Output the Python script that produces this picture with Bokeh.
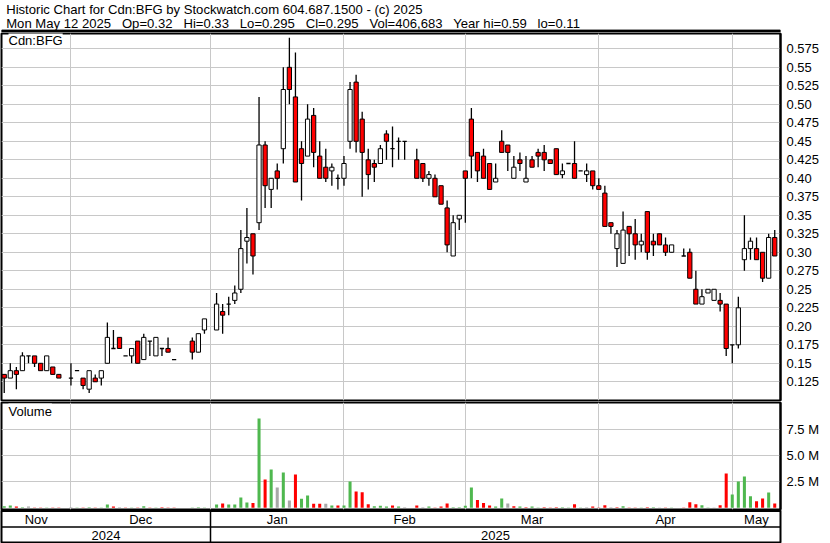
import numpy as np
from bokeh.plotting import figure
from bokeh.models import Range1d, FixedTicker, Label
from bokeh.layouts import column
from bokeh.embed import file_html
from bokeh.resources import INLINE
from bokeh.core.properties import value

# ---------------- data ----------------
symbol = "Cdn:BFG"
header_date = "Mon May 12 2025"

# trading-day slot index (Dec 2 2024 = 0)
day = [-11, -10, -9, -8, -7, -6, -5, -4, -3, -2,
       0, 1, 2, 3, 4, 5, 6, 7, 8, 9, 10, 11, 12, 13, 14, 15, 16, 17, 20, 21, 22,
       24, 25, 26, 27, 28, 29, 30, 31, 32, 33, 34, 35, 36, 37, 38, 39, 40, 41, 42, 43, 44,
       45, 46, 47, 48, 49, 50, 51, 52, 53, 54, 55, 57, 58, 59, 60, 61, 62, 63, 64,
       65, 66, 67, 68, 69, 70, 71, 72, 73, 74, 75, 76, 77, 78, 79, 80, 81, 82, 83, 84, 85, 86,
       87, 88, 89, 90, 91, 92, 93, 94, 95, 96, 97, 98, 99, 101, 102, 103, 104, 105, 106, 107, 108,
       109, 110, 111, 112, 113, 114, 115, 116]

open_ = [0.135, 0.130, 0.140, 0.140, 0.160, 0.160, 0.150, 0.140, 0.145, 0.135,
         0.130, 0.140, 0.130, 0.115, 0.130, 0.130, 0.150, 0.170, 0.185, 0.160, 0.160, 0.180, 0.155, 0.180, 0.160, 0.170, 0.170, 0.155, 0.180, 0.165, 0.195,
         0.195, 0.220, 0.230, 0.235, 0.250, 0.315, 0.325, 0.340, 0.445, 0.385, 0.410, 0.440, 0.550, 0.510, 0.440, 0.430, 0.485, 0.430, 0.415, 0.410, 0.400,
         0.400, 0.450, 0.530, 0.480, 0.425, 0.420, 0.420, 0.460, 0.440, 0.450, 0.450, 0.425, 0.420, 0.400, 0.400, 0.390, 0.360, 0.295, 0.345,
         0.410, 0.480, 0.435, 0.430, 0.420, 0.395, 0.450, 0.445, 0.400, 0.425, 0.395, 0.425, 0.435, 0.435, 0.425, 0.440, 0.405, 0.420, 0.420, 0.410, 0.405, 0.410,
         0.390, 0.380, 0.340, 0.305, 0.285, 0.335, 0.325, 0.310, 0.355, 0.315, 0.325, 0.310, 0.300, 0.295, 0.300, 0.250, 0.230, 0.245, 0.235, 0.235, 0.230,
         0.175, 0.175, 0.290, 0.305, 0.305, 0.300, 0.265, 0.320]

high = [0.135, 0.150, 0.145, 0.165, 0.160, 0.160, 0.150, 0.160, 0.145, 0.135,
        0.150, 0.140, 0.130, 0.140, 0.135, 0.140, 0.205, 0.195, 0.185, 0.160, 0.170, 0.180, 0.190, 0.180, 0.185, 0.170, 0.185, 0.155, 0.185, 0.190, 0.210,
        0.245, 0.230, 0.240, 0.255, 0.330, 0.360, 0.325, 0.510, 0.450, 0.400, 0.420, 0.550, 0.590, 0.570, 0.450, 0.500, 0.495, 0.450, 0.440, 0.420, 0.405,
        0.430, 0.530, 0.540, 0.490, 0.440, 0.425, 0.445, 0.465, 0.470, 0.455, 0.450, 0.440, 0.420, 0.410, 0.405, 0.390, 0.370, 0.350, 0.350,
        0.410, 0.495, 0.435, 0.440, 0.420, 0.420, 0.465, 0.445, 0.430, 0.435, 0.430, 0.430, 0.440, 0.445, 0.425, 0.440, 0.420, 0.420, 0.450, 0.410, 0.420, 0.410,
        0.400, 0.390, 0.340, 0.330, 0.355, 0.335, 0.345, 0.325, 0.355, 0.325, 0.325, 0.320, 0.310, 0.305, 0.305, 0.275, 0.250, 0.250, 0.250, 0.245, 0.230,
        0.175, 0.240, 0.350, 0.320, 0.320, 0.300, 0.325, 0.330]

low = [0.110, 0.130, 0.115, 0.140, 0.150, 0.145, 0.140, 0.140, 0.135, 0.130,
       0.120, 0.140, 0.115, 0.110, 0.125, 0.120, 0.150, 0.170, 0.170, 0.160, 0.150, 0.150, 0.155, 0.160, 0.160, 0.160, 0.165, 0.155, 0.155, 0.165, 0.190,
       0.195, 0.190, 0.215, 0.230, 0.245, 0.285, 0.270, 0.330, 0.360, 0.360, 0.385, 0.420, 0.500, 0.395, 0.370, 0.430, 0.415, 0.400, 0.395, 0.390, 0.385,
       0.390, 0.440, 0.435, 0.375, 0.385, 0.395, 0.420, 0.425, 0.415, 0.425, 0.425, 0.400, 0.395, 0.390, 0.375, 0.365, 0.300, 0.295, 0.330,
       0.340, 0.400, 0.395, 0.400, 0.385, 0.395, 0.435, 0.410, 0.400, 0.410, 0.395, 0.415, 0.415, 0.410, 0.420, 0.405, 0.400, 0.420, 0.400, 0.410, 0.395, 0.385,
       0.385, 0.335, 0.325, 0.280, 0.285, 0.295, 0.290, 0.300, 0.290, 0.295, 0.310, 0.295, 0.300, 0.295, 0.265, 0.230, 0.230, 0.245, 0.235, 0.220, 0.160,
       0.150, 0.170, 0.275, 0.290, 0.290, 0.260, 0.265, 0.295]

close = [0.130, 0.140, 0.135, 0.160, 0.160, 0.150, 0.140, 0.160, 0.135, 0.130,
         0.130, 0.140, 0.120, 0.140, 0.125, 0.140, 0.185, 0.170, 0.170, 0.160, 0.170, 0.150, 0.185, 0.180, 0.185, 0.170, 0.165, 0.155, 0.165, 0.190, 0.210,
         0.230, 0.215, 0.230, 0.245, 0.305, 0.320, 0.295, 0.445, 0.390, 0.400, 0.400, 0.520, 0.520, 0.395, 0.420, 0.480, 0.435, 0.400, 0.400, 0.415, 0.400,
         0.420, 0.520, 0.450, 0.435, 0.405, 0.415, 0.440, 0.450, 0.440, 0.450, 0.450, 0.400, 0.400, 0.405, 0.375, 0.365, 0.310, 0.340, 0.350,
         0.400, 0.430, 0.410, 0.400, 0.385, 0.400, 0.435, 0.435, 0.415, 0.420, 0.400, 0.415, 0.430, 0.425, 0.420, 0.405, 0.410, 0.420, 0.400, 0.410, 0.410, 0.390,
         0.385, 0.335, 0.335, 0.325, 0.330, 0.325, 0.310, 0.315, 0.300, 0.310, 0.310, 0.300, 0.310, 0.295, 0.265, 0.230, 0.240, 0.250, 0.250, 0.230, 0.170,
         0.175, 0.225, 0.305, 0.315, 0.290, 0.265, 0.320, 0.295]

volume = [160000, 220000, 130000, 60000, 130000, 20000, 20000, 20000, 20000, 20000,
          60000, 20000, 20000, 60000, 20000, 20000, 320000, 130000, 60000, 20000, 20000, 20000, 160000, 20000, 20000, 60000, 20000, 20000, 20000, 60000, 20000,
          320000, 420000, 320000, 320000, 990000, 510000, 450000, 8590000, 2720000, 3690000, 1960000, 3400000, 700000, 3200000, 870000, 1190000, 385000, 385000, 385000, 220000, 220000,
          220000, 2530000, 1570000, 1500000, 350000, 160000, 190000, 130000, 220000, 130000, 60000, 220000, 60000, 130000, 20000, 130000, 420000, 60000, 60000,
          190000, 1960000, 740000, 450000, 220000, 130000, 900000, 420000, 160000, 130000, 60000, 130000, 20000, 60000, 20000, 60000, 60000, 20000, 350000, 20000, 60000, 130000,
          20000, 250000, 60000, 60000, 160000, 20000, 20000, 20000, 60000, 60000, 20000, 20000, 20000, 20000, 545000, 350000, 250000, 20000, 20000, 250000, 3300000,
          1280000, 2530000, 3000000, 1120000, 640000, 900000, 1470000, 406683]

month_names = ["Nov", "Dec", "Jan", "Feb", "Mar", "Apr", "May"]
month_start = [0, 23, 45, 65, 87, 109]          # slot of Dec, Jan, Feb, Mar, Apr, May
year_names = ["2024", "2025"]
year_start = [23]                                # slot where 2025 begins

price_ticks = [0.125, 0.15, 0.175, 0.2, 0.225, 0.25, 0.275, 0.3, 0.325, 0.35,
               0.375, 0.4, 0.425, 0.45, 0.475, 0.5, 0.525, 0.55, 0.575]
price_tick_labels = ["0.125", "0.15", "0.175", "0.20", "0.225", "0.25", "0.275", "0.30", "0.325", "0.35",
                     "0.375", "0.40", "0.425", "0.45", "0.475", "0.50", "0.525", "0.55", "0.575"]
vol_ticks = [2500000, 5000000, 7500000]
vol_tick_labels = ["2.5 M", "5.0 M", "7.5 M"]

# ---------------- styling ----------------
FONT = value("Liberation Sans")
W = 830
XS, XE = -11.45, 116.95
GRID = "#c8c8c8"
RED = "#ff0000"
GREEN = "#4fb84f"
GREY = "#a8a8a8"
RB = 50

d = np.array(day, dtype=float)
o = np.array(open_); h = np.array(high); l = np.array(low); c = np.array(close)
v = np.array(volume, dtype=float)

xr = Range1d(XS, XE)

# ---------------- header ----------------
HH = 32
hdr = figure(width=W, height=HH, x_range=Range1d(0, W), y_range=Range1d(HH, 0),
             output_backend="svg", toolbar_location=None,
             min_border_left=0, min_border_right=0, min_border_top=0, min_border_bottom=0)
hdr.axis.visible = False
hdr.grid.visible = False
hdr.outline_line_color = None
sp = "\u00a0\u00a0 "
line1 = f"Historic Chart for {symbol} by Stockwatch.com 604.687.1500 - (c) 2025"
line2 = (f"{header_date}{sp}Op={o[-1]:g}{sp}Hi={h[-1]:g}{sp}Lo={l[-1]:g}{sp}Cl={c[-1]:g}"
         f"{sp}Vol={int(v[-1]):,}{sp}Year hi={h.max():g}{sp}lo={l.min():g}")
hdr.quad(left=[0], right=[W], top=[29.6], bottom=[HH], color="black")
hdr.text(x=[5, 5], y=[9.0, 23.2], text=[line1, line2], text_font=FONT,
         text_font_size="13.1px", text_color="black", text_baseline="alphabetic")

# ---------------- price panel ----------------
p = figure(width=W, height=369, x_range=xr, y_range=Range1d(0.0997, 0.5957),
           x_axis_location=None, y_axis_location="right",
           output_backend="svg", toolbar_location=None,
           min_border_left=1, min_border_right=RB, min_border_top=1, min_border_bottom=1)
p.outline_line_color = "black"
p.outline_line_width = 2
p.xgrid.ticker = FixedTicker(ticks=month_start)
p.ygrid.ticker = FixedTicker(ticks=price_ticks)
p.grid.grid_line_color = GRID
p.grid.grid_line_width = 1
ax = p.yaxis[0]
ax.ticker = FixedTicker(ticks=price_ticks)
ax.major_label_overrides = dict(zip(price_ticks, price_tick_labels))
ax.major_label_text_font = "Liberation Sans"
ax.major_label_text_font_size = "13px"
ax.major_label_text_color = "black"
ax.axis_line_color = "black"
ax.axis_line_width = 2
ax.major_tick_in = 0
ax.major_tick_out = 0
ax.minor_tick_in = 0
ax.minor_tick_out = 0
ax.major_label_standoff = 6

# wicks
p.segment(x0=d, y0=l, x1=d, y1=h, line_color="black", line_width=1.3)
# bodies
up = c > o
dn = c < o
eq = c == o
bw = 0.7
p.vbar(x=d[up], width=bw, top=c[up], bottom=o[up], fill_color="white",
       line_color="black", line_width=1)
p.vbar(x=d[dn], width=bw, top=o[dn], bottom=c[dn], fill_color=RED,
       line_color="black", line_width=1)
p.segment(x0=d[eq] - bw / 2, y0=o[eq], x1=d[eq] + bw / 2, y1=c[eq],
          line_color="black", line_width=1.3)

p.add_layout(Label(x=XS, y=0.5957 - 0.019, text=symbol, x_offset=7,
                   text_font="Liberation Sans", text_font_size="13px", text_color="black",
                   background_fill_color="white", background_fill_alpha=1.0))

# ---------------- volume panel ----------------
VB, VT = -163000, 10125000
vp = figure(width=W, height=109, x_range=xr, y_range=Range1d(VB, VT),
            x_axis_location=None, y_axis_location="right",
            output_backend="svg", toolbar_location=None,
            min_border_left=1, min_border_right=RB, min_border_top=1, min_border_bottom=1)
vp.outline_line_color = "black"
vp.outline_line_width = 2
vp.xgrid.ticker = FixedTicker(ticks=month_start)
vp.ygrid.ticker = FixedTicker(ticks=vol_ticks)
vp.grid.grid_line_color = GRID
vax = vp.yaxis[0]
vax.ticker = FixedTicker(ticks=vol_ticks)
vax.major_label_overrides = dict(zip(vol_ticks, vol_tick_labels))
vax.major_label_text_font = "Liberation Sans"
vax.major_label_text_font_size = "13px"
vax.major_label_text_color = "black"
vax.axis_line_color = "black"
vax.axis_line_width = 2
vax.major_tick_in = 0
vax.major_tick_out = 0
vax.minor_tick_in = 0
vax.minor_tick_out = 0
vax.major_label_standoff = 6

prev = np.concatenate([[c[0] - 0.005], c[:-1]])
vcol = np.where(c > prev, GREEN, np.where(c < prev, RED, GREY))
vp.vbar(x=d, width=0.5, top=v, bottom=0, fill_color=vcol, line_color=None)
vp.add_layout(Label(x=XS, y=VT - (VT - VB) * 0.15, text="Volume", x_offset=7,
                    text_font="Liberation Sans", text_font_size="13px", text_color="black",
                    background_fill_color="white", background_fill_alpha=1.0))

# ---------------- date strip ----------------
SH = 33
st = figure(width=W, height=SH, x_range=xr, y_range=Range1d(SH - 1, 0),
            output_backend="svg", toolbar_location=None,
            min_border_left=1, min_border_right=RB, min_border_top=0, min_border_bottom=1)
st.axis.visible = False
st.grid.visible = False
st.outline_line_color = "black"
st.outline_line_width = 2
mb = [XS] + month_start + [XE]
month_mid = [(mb[i] + mb[i + 1]) / 2 for i in range(len(month_names))]
yb = [XS] + year_start + [XE]
year_mid = [(yb[i] + yb[i + 1]) / 2 for i in range(len(year_names))]
st.text(x=month_mid, y=[9.3] * len(month_names), text=month_names, text_align="center",
        text_baseline="alphabetic", text_font=FONT, text_font_size="13px", text_color="black")
st.text(x=year_mid, y=[24.6] * len(year_names), text=year_names, text_align="center",
        text_baseline="alphabetic", text_font=FONT, text_font_size="13px", text_color="black")
st.segment(x0=[XS], y0=[16.5], x1=[XE], y1=[16.5], line_color="black", line_width=1.5)
st.segment(x0=year_start, y0=[0] * len(year_start), x1=year_start, y1=[SH] * len(year_start),
           line_color="black", line_width=1.5)
st.segment(x0=[XS], y0=[0.5], x1=[XE], y1=[0.5], line_color="black", line_width=2)

layout = column(hdr, p, vp, st, spacing=0)
open("out.html", "w").write(file_html(layout, INLINE))
